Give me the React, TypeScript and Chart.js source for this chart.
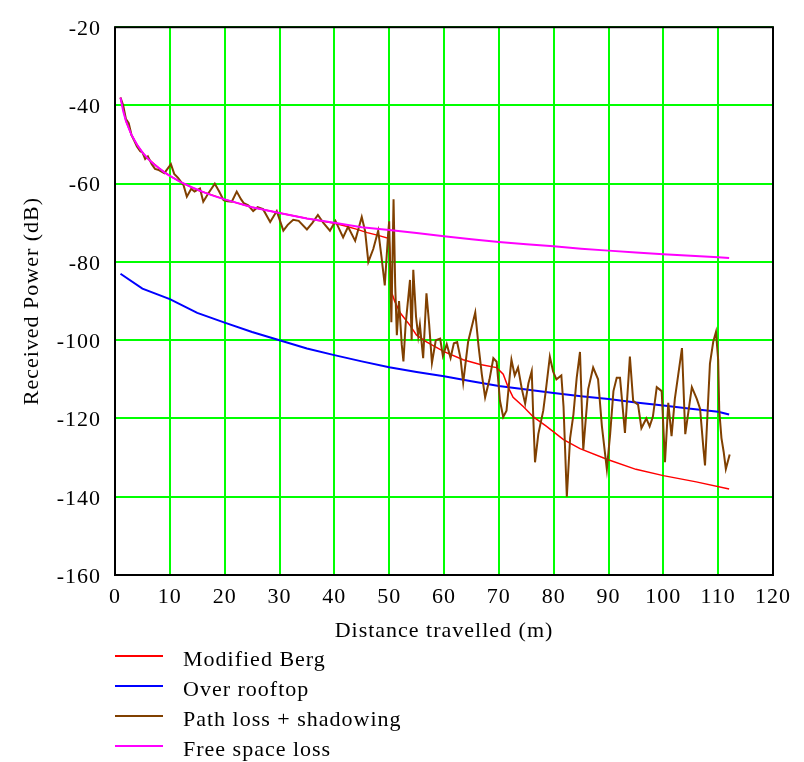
import React, { useEffect, useRef } from "react";
import { Chart, registerables } from "chart.js";

Chart.register(...registerables);

const FONT = "'Liberation Serif', 'Times New Roman', serif";

// Tick values
const xTickValues = [0, 10, 20, 30, 40, 50, 60, 70, 80, 90, 100, 110, 120];
const yTickValues = [-160, -140, -120, -100, -80, -60, -40, -20];

// Modified Berg
const bergDist = [1, 2, 3, 4, 5, 6, 8, 10, 12, 15, 20, 25, 30, 35, 40, 42, 44, 46, 48, 50, 50.5, 51, 52, 53.8, 55, 56.8, 60, 63.5, 66.6, 69.6, 70.8, 71.7, 72.6, 74.5, 76.3, 78.7, 81.8, 84.8, 89.7, 95, 100, 106, 112];
const bergPower = [-38, -44, -47.5, -50, -52, -53.6, -56, -58, -59.6, -61.6, -64, -66, -67.5, -68.9, -70.1, -70.8, -71.6, -72.5, -73.2, -74, -88, -90, -93, -96.2, -98.7, -100.4, -102.9, -105, -106.2, -107, -108.7, -112, -114.6, -117, -119.6, -122, -125.4, -127.7, -130.4, -133, -134.6, -136.2, -138];

// Over rooftop
const roofDist = [1, 5, 10, 15, 20, 25, 30, 35, 40, 45, 50, 55, 60, 65, 70, 75, 80, 85, 90, 95, 100, 105, 110, 112];
const roofPower = [-83, -86.8, -89.5, -93, -95.5, -97.9, -100, -102.1, -103.8, -105.4, -106.9, -108.1, -109.2, -110.5, -111.7, -112.6, -113.5, -114.3, -115, -115.9, -116.7, -117.5, -118.3, -119];

// Path loss + shadowing
const shadowDist = [1, 1.5, 2, 2.5, 3, 3.5, 4, 4.6, 5, 5.5, 6, 6.7, 7.3, 8, 9, 10.2, 10.8, 11.5, 12.5, 13.1, 13.9, 14.5, 15.5, 16.1, 17, 18.2, 19, 19.8, 20.5, 21.3, 22.2, 23, 23.5, 24.3, 25.2, 26, 27, 28.3, 29.5, 30.7, 31.5, 32.5, 33.5, 35, 36, 37, 38, 39.2, 40.2, 41.6, 42.5, 43.8, 45, 45.6, 46.2, 47.1, 48, 48.6, 49.2, 49.8, 50, 50.4, 50.8, 51.1, 51.4, 51.8, 52.3, 52.6, 53, 53.8, 54.1, 54.4, 54.9, 55.3, 55.6, 56.2, 56.8, 57.3, 57.8, 58.5, 59.3, 59.8, 60.5, 61.2, 61.8, 62.4, 63, 63.5, 64.4, 65.7, 66.3, 66.9, 67.5, 68.3, 69, 69.6, 70.2, 70.8, 71.4, 72, 72.3, 72.9, 73.5, 74.2, 74.8, 75.4, 76, 76.3, 76.6, 77.2, 78.1, 78.6, 79.3, 79.9, 80.5, 81.4, 81.8, 82.4, 83, 83.6, 84.2, 84.8, 85.4, 86.3, 87.2, 88.1, 88.8, 89.7, 90.3, 90.9, 91.5, 92.1, 93, 93.9, 94.5, 95.4, 96, 96.9, 97.5, 98.1, 98.8, 99.7, 100.3, 100.9, 101.5, 102.1, 103.4, 104, 104.6, 105.2, 106.1, 106.7, 107.3, 107.6, 108.5, 109.1, 109.6, 110, 110.2, 110.6, 111, 111.4, 112.1];
const shadowPower = [-38, -40, -43.5, -44.5, -47.5, -49, -50.5, -51.7, -52, -53.7, -53, -55, -56.2, -56.5, -57.3, -55, -57.5, -58.5, -60.4, -63.3, -61.3, -62, -61.2, -64.6, -62.5, -60, -62, -64.2, -64.5, -64.6, -62, -64, -65, -65.5, -67, -66, -66.5, -69.8, -67, -72, -70.5, -69.2, -69.5, -71.7, -70, -68, -70, -72, -69.5, -73.7, -71, -74.6, -68.5, -72, -80, -76.7, -72, -78.7, -86, -73, -69.6, -95.4, -64, -86, -98.7, -90, -101.2, -105.4, -96, -84.6, -100, -82, -94, -99, -96, -104.6, -88, -96, -105.8, -100, -99.6, -104, -101, -104.5, -100.8, -100.5, -104.5, -110.8, -100.4, -92.9, -101.5, -108.7, -114.6, -110, -104.6, -105.5, -115.4, -119.6, -118, -109, -105, -109, -107, -112.5, -116.2, -111, -107.9, -120.4, -131.2, -124, -118, -112.5, -104.2, -108, -110, -109, -117, -140, -125, -119, -109.6, -103, -128, -112.5, -107, -110, -122, -133, -124, -113, -109.6, -109.6, -123.7, -104.2, -115.5, -116.5, -122.5, -120, -122, -119.5, -112, -113, -131.2, -116, -124.5, -115, -102, -124, -118, -112, -115, -117.5, -127.5, -132, -106, -100.4, -97.9, -105, -118, -125, -128.5, -132.9, -129.2];

// Free space loss
const fsDist = [1, 1.5, 2, 3, 4, 5, 6, 7, 8, 9, 10, 12, 14, 16, 18, 20, 25, 30, 35, 40, 45, 50, 55, 60, 65, 70, 75, 80, 85, 90, 95, 100, 105, 110, 112];
const fsPower = [-38, -41.5, -44, -47.5, -50, -52, -53.6, -54.9, -56, -57.1, -58, -59.6, -60.9, -62.1, -63.1, -64, -66, -67.5, -68.9, -70, -71.1, -71.8, -72.6, -73.4, -74.2, -74.9, -75.5, -76, -76.6, -77.1, -77.6, -78, -78.4, -78.8, -79];

const seriesLabels = ["Modified Berg", "Over rooftop", "Path loss + shadowing", "Free space loss"];
const seriesColors = ["#ff0000", "#0000ff", "#804000", "#ff00ff"];

const toPts = (xs: number[], ys: number[]) => xs.map((x, i) => ({ x, y: ys[i] }));

const setSpacing = (chart: any) => {
  try { (chart.ctx as any).letterSpacing = "1px"; } catch (e) { /* ignore */ }
};

const framePlugin = {
  id: "frameAndLegend",
  beforeUpdate(chart: any) { setSpacing(chart); },
  beforeDraw(chart: any) { setSpacing(chart); },
  afterDatasetsDraw(chart: any) {
    const { ctx, chartArea } = chart;
    ctx.save();
    ctx.strokeStyle = "#000";
    ctx.lineWidth = 2;
    ctx.strokeRect(chartArea.left, chartArea.top, chartArea.right - chartArea.left, chartArea.bottom - chartArea.top);
    ctx.restore();
  },
  afterDraw(chart: any) {
    const { ctx, chartArea } = chart;
    ctx.save();
    ctx.font = `22px ${FONT}`;
    ctx.fillStyle = "#000";
    ctx.textAlign = "left";
    ctx.textBaseline = "alphabetic";
    chart.data.datasets.forEach((ds: any, i: number) => {
      const y = chartArea.bottom + 81 + i * 30;
      ctx.strokeStyle = ds.borderColor;
      ctx.lineWidth = 2;
      ctx.beginPath();
      ctx.moveTo(chartArea.left, y);
      ctx.lineTo(chartArea.left + 48, y);
      ctx.stroke();
      ctx.fillText(ds.label, chartArea.left + 68, y + 10);
    });
    ctx.restore();
  },
};

export default function App() {
  const ref = useRef<HTMLCanvasElement>(null);
  useEffect(() => {
    if (!ref.current) return;
    const font = { family: FONT, size: 22 };
    const mk = (i: number, xs: number[], ys: number[], order: number, width: number) => ({
      label: seriesLabels[i],
      data: toPts(xs, ys),
      borderColor: seriesColors[i],
      backgroundColor: seriesColors[i],
      borderWidth: width,
      pointRadius: 0,
      tension: 0,
      fill: false,
      order,
    });
    const chart = new Chart(ref.current, {
      type: "line",
      data: {
        datasets: [
          mk(0, bergDist, bergPower, 3, 1.5),
          mk(1, roofDist, roofPower, 4, 2),
          mk(2, shadowDist, shadowPower, 2, 2),
          mk(3, fsDist, fsPower, 1, 2),
        ],
      },
      options: {
        animation: false,
        responsive: false,
        layout: { padding: { top: 15, right: 31, left: 0, bottom: 0 } },
        plugins: { legend: { display: false }, tooltip: { enabled: false } },
        scales: {
          x: {
            type: "linear",
            min: xTickValues[0],
            max: xTickValues[xTickValues.length - 1],
            afterBuildTicks: (s: any) => { s.ticks = xTickValues.map((v) => ({ value: v })); },
            ticks: { font, color: "#000", padding: 9, maxRotation: 0, autoSkip: false },
            grid: { color: "#00ff00", lineWidth: 2, drawTicks: false },
            border: { display: false },
            title: { display: true, text: "Distance travelled (m)", font, color: "#000", padding: { top: 0, bottom: 118 } },
            afterFit: (s: any) => { s.height = 187; },
          },
          y: {
            type: "linear",
            min: yTickValues[0],
            max: yTickValues[yTickValues.length - 1],
            afterBuildTicks: (s: any) => { s.ticks = yTickValues.map((v) => ({ value: v })); },
            ticks: { font, color: "#000", padding: 14, labelOffset: 2, autoSkip: false },
            grid: { color: "#00ff00", lineWidth: 2, drawTicks: false },
            border: { display: false },
            title: { display: true, text: "Received Power (dB)", font, color: "#000", padding: { top: 19, bottom: 0 } },
            afterFit: (s: any) => { s.width = 115; },
          },
        },
      },
      plugins: [framePlugin],
    });
    return () => chart.destroy();
  }, []);
  return (
    <div style={{ position: "absolute", left: 0, top: 0, width: 804, height: 762, background: "#fff" }}>
      <canvas ref={ref} width={804} height={762} style={{ display: "block" }} />
    </div>
  );
}
